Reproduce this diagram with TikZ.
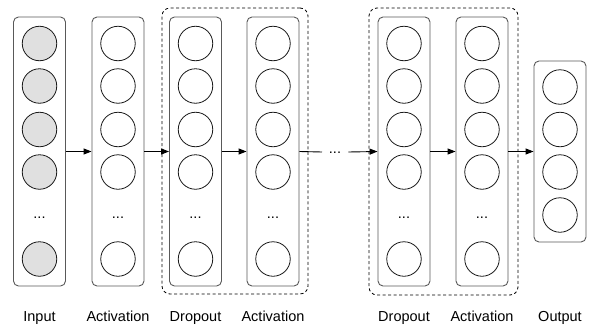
\documentclass[tikz,border=0pt]{standalone}
\usepackage{fontspec}
\setmainfont{Liberation Sans}
\usetikzlibrary{arrows.meta}
\begin{document}
\begin{tikzpicture}[x=1pt,y=-1pt,
  layerbox/.style={draw=black!65, line width=0.9pt, rounded corners=5pt, minimum width=52pt, inner sep=0pt},
  neuron/.style={circle, draw=black!90, line width=0.8pt, minimum size=34.5pt, inner sep=0pt},
  inneuron/.style={neuron, fill=black!12},
  groupbox/.style={draw=black, line width=0.8pt, dashed, dash pattern=on 3pt off 2.5pt, rounded corners=8pt, inner sep=0pt},
  conn/.style={line width=0.9pt, -{Triangle[length=8pt,width=6pt]}},
  plain/.style={line width=0.9pt},
  lbl/.style={font=\fontsize{14.5}{16}\selectfont, inner sep=0pt, anchor=base},
  dots/.style={font=\fontsize{14.5}{16}\selectfont, inner sep=0pt}
]
\useasboundingbox (0,0) rectangle (590,327);

% dashed groups
\node[groupbox, minimum width=146pt, minimum height=286pt] (g1) at (235,151) {};
\node[groupbox, minimum width=149pt, minimum height=287pt] (g2) at (443.5,151.5) {};

% layer boxes
\node[layerbox, minimum height=269pt] (L1) at (39.5,151.5) {};
\node[layerbox, minimum height=269pt] (L2) at (118,151.5) {};
\node[layerbox, minimum height=269pt] (L3) at (195.5,151.5) {};
\node[layerbox, minimum height=269pt] (L4) at (273,151.5) {};
\node[layerbox, minimum height=269pt] (L5) at (404,151.5) {};
\node[layerbox, minimum height=269pt] (L6) at (482,151.5) {};
\node[layerbox, minimum height=181pt] (L7) at (560,151.5) {};

% neurons of tall layers
\foreach \n/\x/\s in {1/39.5/inneuron, 2/118/neuron, 3/195.5/neuron, 4/273/neuron, 5/404/neuron, 6/482/neuron} {
  \foreach \i/\y in {1/43.5, 2/86, 3/129.5, 4/172} {
    \node[\s] (n\n-\i) at (\x,\y) {};
  }
  \node[dots] (d\n) at (\x,218) {...};
  \node[\s] (n\n-5) at (\x,259) {};
}
% output neurons
\foreach \i/\y in {1/87, 2/129.5, 3/172, 4/215} {
  \node[neuron] (o\i) at (560,\y) {};
}

% connectors
\draw[conn] (L1.east) -- (L2.west);
\draw[conn] (L2.east) -- (L3.west);
\draw[conn] (L3.east) -- (L4.west);
\node[dots, minimum width=26pt, anchor=west] (gap) at (322,152) {};
\node[dots] (gaptxt) at (335,152.5) {...};
\draw[plain] (L4.east) -- (gap.west);
\draw[conn] (gap.east) -- (L5.west);
\draw[conn] (L5.east) -- (L6.west);
\draw[conn] (L6.east) -- (L7.west);

% labels
\node[lbl] (t1) at (39.5,321) {Input};
\node[lbl] (t2) at (118,321) {Activation};
\node[lbl] (t3) at (195.5,321) {Dropout};
\node[lbl] (t4) at (273,321) {Activation};
\node[lbl] (t5) at (404,321) {Dropout};
\node[lbl] (t6) at (482,321) {Activation};
\node[lbl] (t7) at (560,321) {Output};
\end{tikzpicture}
\end{document}
